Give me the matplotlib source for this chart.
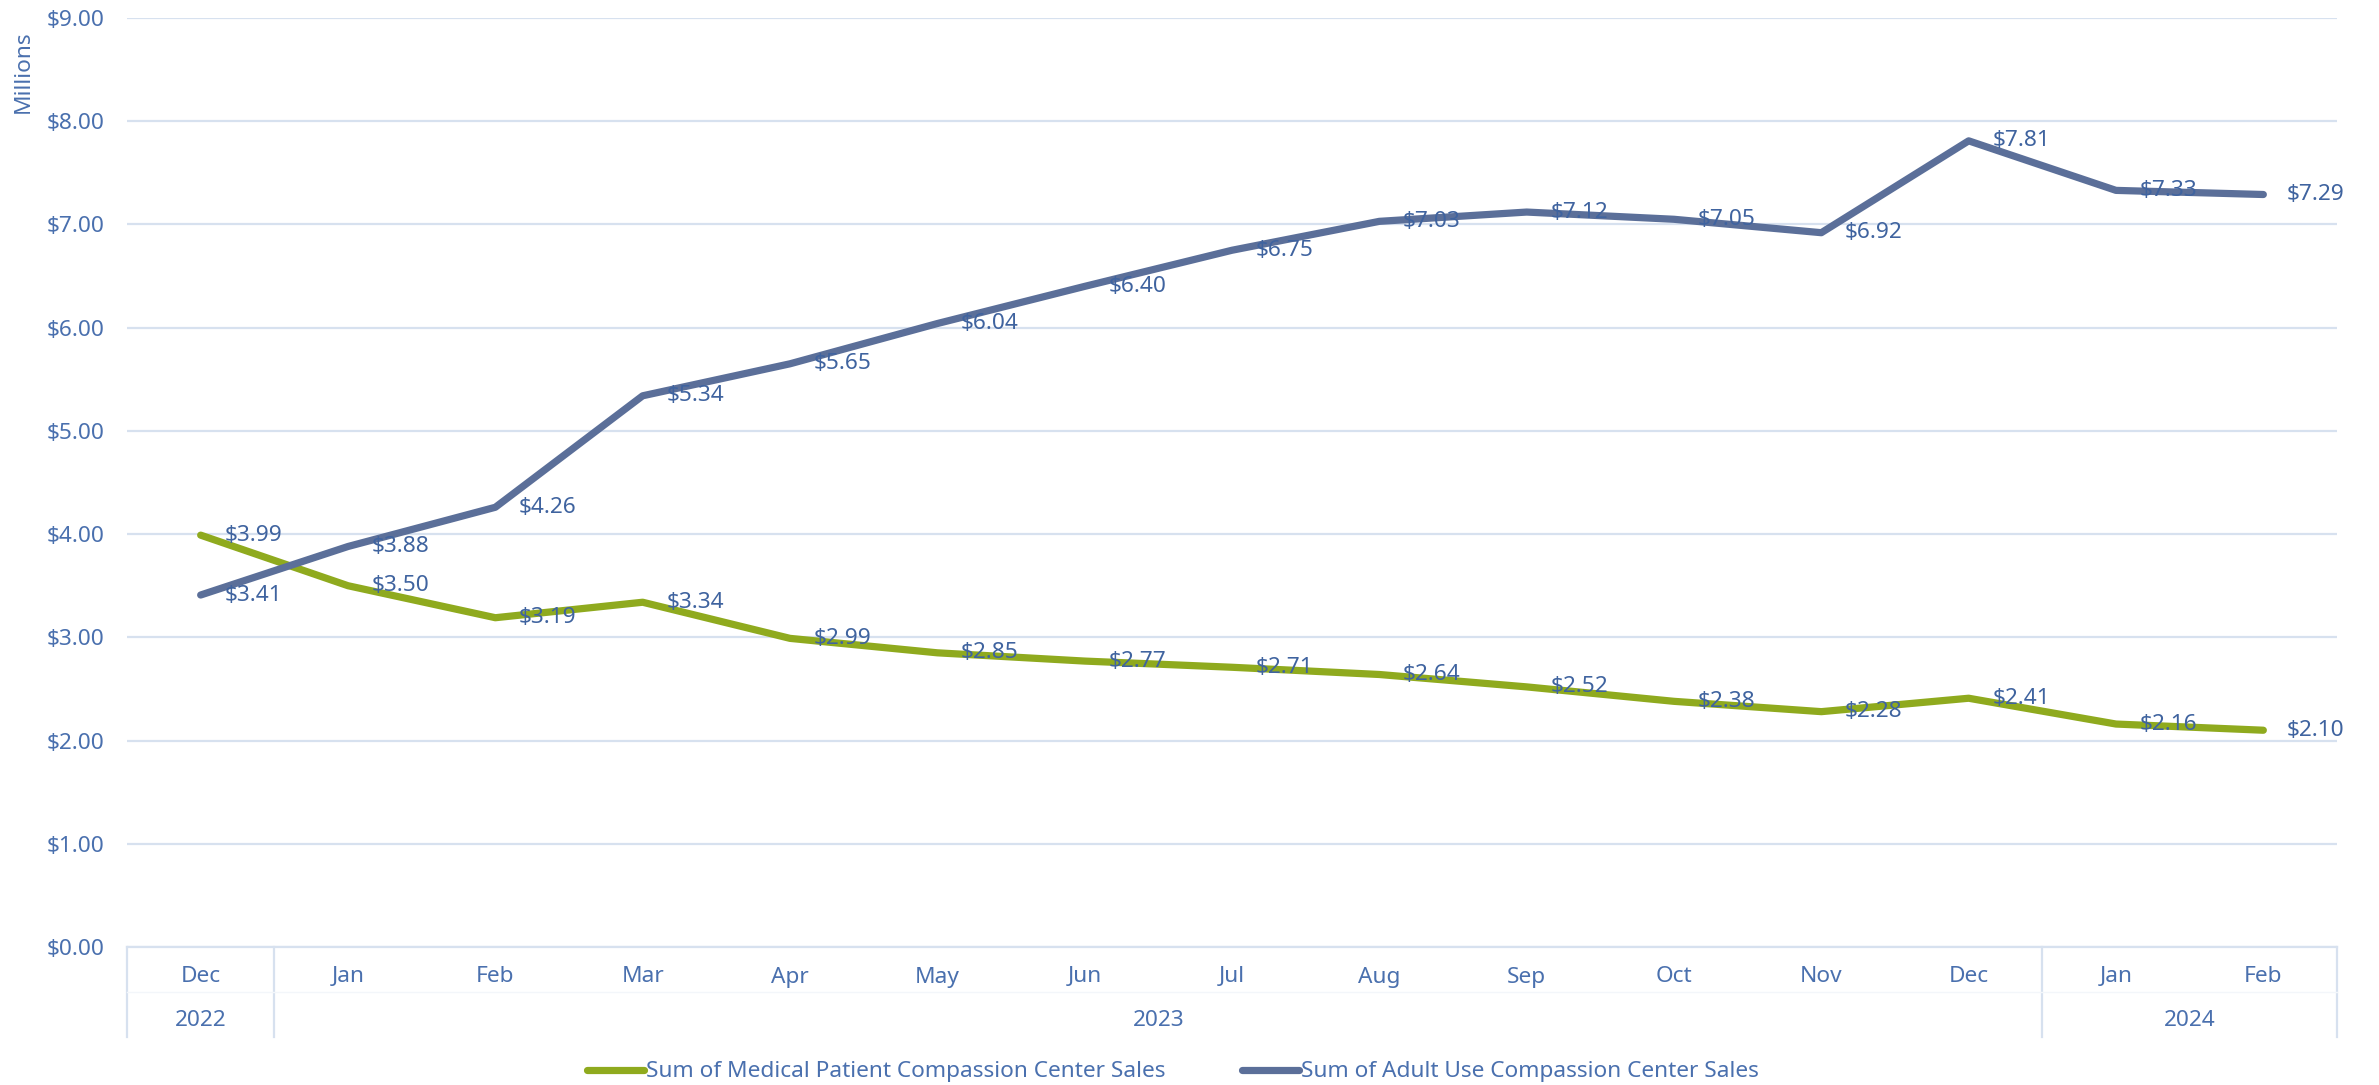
import numpy as np
import matplotlib.pyplot as plt

#%% data
months = ['Dec', 'Jan', 'Feb', 'Mar', 'Apr', 'May', 'Jun', 'Jul', 'Aug',
          'Sep', 'Oct', 'Nov', 'Dec', 'Jan', 'Feb']
years = ['2022', '2023', '2024']
year_spans = [(0, 0), (1, 12), (13, 14)]  # first and last month index of each year
medical = [3.99, 3.50, 3.19, 3.34, 2.99, 2.85, 2.77, 2.71, 2.64, 2.52, 2.38, 2.28, 2.41, 2.16, 2.10]
adult = [3.41, 3.88, 4.26, 5.34, 5.65, 6.04, 6.40, 6.75, 7.03, 7.12, 7.05, 6.92, 7.81, 7.33, 7.29]

#%% style
txt = '#4A70AE'
lbl = '#3F639F'
grid_c = '#D7E1EF'
green = '#8FAA1E'
blue = '#5B6F99'
plt.rcParams['font.family'] = ['Noto Sans', 'DejaVu Sans']
fs = 16.3

fig = plt.figure(figsize=(23.79, 10.85), dpi=100)
ax = fig.add_axes([127 / 2379, 138 / 1085, 2210 / 2379, 929 / 1085])

x = np.arange(len(months))
ax.plot(x, medical, color=green, lw=5.2, solid_capstyle='round',
        label='Sum of Medical Patient Compassion Center Sales', zorder=3)
ax.plot(x, adult, color=blue, lw=5.2, solid_capstyle='round',
        label='Sum of Adult Use Compassion Center Sales', zorder=3)

for xi, v in zip(x, medical):
    ax.annotate('${:.2f}'.format(v), (xi, v), xytext=(17, 0), textcoords='offset points',
                ha='left', va='center', fontsize=fs, color=lbl, zorder=4)
for xi, v in zip(x, adult):
    ax.annotate('${:.2f}'.format(v), (xi, v), xytext=(17, 0), textcoords='offset points',
                ha='left', va='center', fontsize=fs, color=lbl, zorder=4)

ax.set_xlim(-0.5, len(months) - 0.5)
ax.set_ylim(0, 9)
ax.set_yticks(np.arange(0, 10, 1))
ax.set_yticklabels(['${:.2f}'.format(t) for t in np.arange(0, 10, 1)])
ax.tick_params(axis='y', length=0, pad=16, labelsize=fs, labelcolor=txt)
ax.set_xticks([])
ax.grid(axis='y', color=grid_c, lw=1.6, zorder=0)
for s in ax.spines.values():
    s.set_visible(False)

# multi level category axis
tr = ax.get_xaxis_transform()
h = 929.0
for xi, m in zip(x, months):
    ax.text(xi, -30 / h, m, transform=tr, ha='center', va='center',
            fontsize=fs, color=txt, clip_on=False)
for yr, (a, b) in zip(years, year_spans):
    ax.text((a + b) / 2, -74 / h, yr, transform=tr, ha='center', va='center',
            fontsize=fs, color=txt, clip_on=False)
for edge in [-0.5, 0.5, 12.5, 14.5]:
    ax.plot([edge, edge], [0, -90 / h], transform=tr, color=grid_c, lw=1.6, clip_on=False)
ax.plot([-0.5, 14.5], [-45 / h, -45 / h], transform=tr, color='#F3F6FA', lw=1, clip_on=False)
ax.plot([-0.5, 14.5], [0, 0], transform=tr, color=grid_c, lw=1.6, clip_on=False)

fig.text(23 / 2379, 1 - 72 / 1085, 'Millions', rotation=90, ha='center', va='center',
         fontsize=fs, color=txt)

leg = fig.legend(loc='center', bbox_to_anchor=(1173 / 2379, 1 - 1072 / 1085), ncol=2,
                 frameon=False, fontsize=fs, handlelength=2.5, handletextpad=0.1,
                 columnspacing=3.4)
for t in leg.get_texts():
    t.set_color(txt)

fig.savefig('out.png', dpi=100)
